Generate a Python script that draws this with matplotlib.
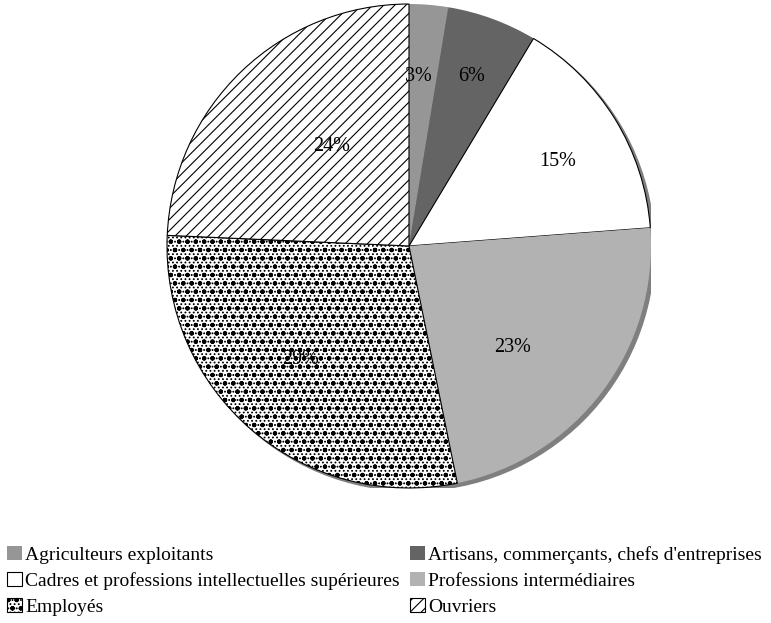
import matplotlib
matplotlib.use('Agg')
import matplotlib.pyplot as plt
from matplotlib.patches import Circle

plt.rcParams['font.family'] = ['Liberation Serif', 'DejaVu Serif']
plt.rcParams['hatch.linewidth'] = 0.8

# data (percent of total)
categories = ['Agriculteurs exploitants',
              "Artisans, commerçants, chefs d'entreprises",
              'Cadres et professions intellectuelles supérieures',
              'Professions intermédiaires',
              'Employés',
              'Ouvriers']
values = [2.6, 6.0, 15.2, 23.0, 28.9, 24.3]

# styles
colors = ['#969696', '#646464', '#ffffff', '#b2b2b2', '#ffffff', '#ffffff']
hatches = [None, None, None, None, '....oo', '///']
edges = ['none', 'none', 'black', 'none', 'black', 'black']
# label placement inside the pie (unit radius)
label_pos = [(0.04, 0.70), (0.26, 0.70), (0.615, 0.35),
             (0.43, -0.42), (-0.45, -0.47), (-0.32, 0.41)]

fig = plt.figure(figsize=(7.71, 6.23), dpi=100)
cx, cy, r = 409, 246, 242
ax = fig.add_axes([(cx - r) / 771, 1 - (cy + r) / 623, 2 * r / 771, 2 * r / 623])
ax.axis('off')

# drop shadow
ax.add_patch(Circle((0.014, -0.012), 1.0, color='#7f7f7f', zorder=0))

wedges, texts, autotexts = ax.pie(values, startangle=90, counterclock=False,
                                  colors=colors, autopct='%.0f%%',
                                  radius=1.0, labels=None,
                                  textprops={'fontsize': 14.5, 'color': 'black'},
                                  wedgeprops={'linewidth': 0.8})
ax.set_xlim(-1, 1)
ax.set_ylim(-1, 1)
ax.set_aspect('equal')

for w, h, e in zip(wedges, hatches, edges):
    w.set_zorder(1)
    w.set_edgecolor('black' if h else e)
    if h:
        w.set_hatch(h)

for t, p in zip(autotexts, label_pos):
    t.set_position(p)
    t.set_zorder(5)

order = [0, 2, 4, 1, 3, 5]
leg = fig.legend([wedges[i] for i in order], [categories[i] for i in order],
                 ncol=2, loc='center left', bbox_to_anchor=(-0.013, 0.068),
                 frameon=False, fontsize=14, handlelength=0.75,
                 handleheight=0.75, handletextpad=0.15, columnspacing=0.55,
                 labelspacing=0.42)

fig.savefig('out.png', dpi=100)
